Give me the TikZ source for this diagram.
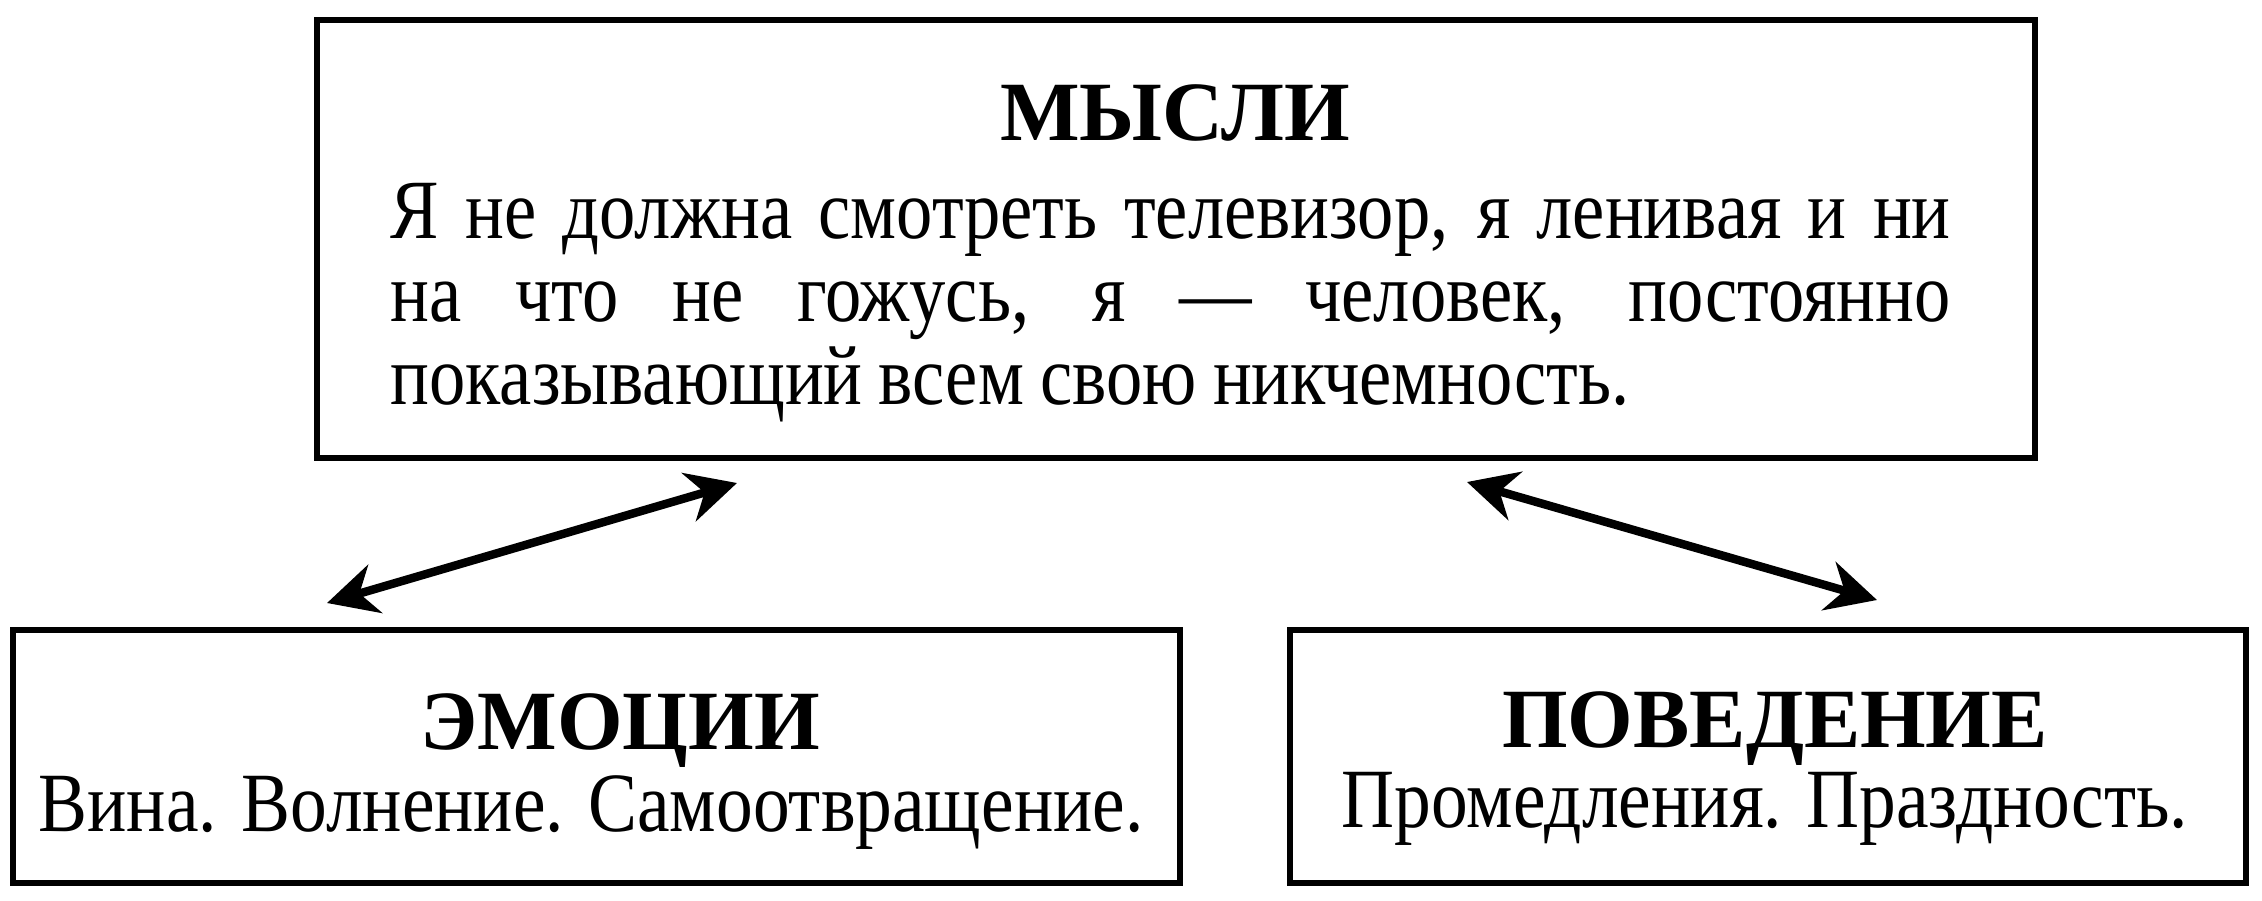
\documentclass[tikz,border=0pt]{standalone}
\usepackage{fontspec}
\setmainfont{Liberation Serif}
\newfontfamily\narrowfont[FakeStretch=0.87]{Liberation Serif}
\newfontfamily\bodyfont[FakeStretch=0.86,WordSpace=0.9]{Liberation Serif}
\usepackage{tikz}
\usetikzlibrary{arrows.meta,positioning,calc}

\begin{document}
\begin{tikzpicture}[transform shape,scale=1,
	box/.style={draw,line width=1.6pt,inner sep=0pt},
	title/.style={anchor=base,font=\bfseries\fontsize{24}{28}\selectfont,inner sep=0pt},
	sub/.style={anchor=base,font=\narrowfont\fontsize{24}{28}\selectfont,inner sep=0pt},
	link/.style={line width=2.4pt,{Stealth[length=5mm,width=5mm]}-{Stealth[length=5mm,width=5mm]}}]
	\useasboundingbox (0,0) rectangle (22.62,-9.00);
	% boxes
	\draw[box] (3.17,-0.20) rectangle (20.35,-4.58);
	\draw[box] (0.13,-6.30) rectangle (11.80,-8.83);
	\draw[box] (12.90,-6.30) rectangle (22.46,-8.83);
	% top box
	\node[title] (mysli) at (11.75,-1.40) {МЫСЛИ};
	\node[anchor=north west,inner sep=0pt,text width=15.6cm,align=justify,
		font=\bodyfont\fontsize{24}{23.6}\selectfont] (mysli-text) at (3.90,-1.83)
		{Я не должна смотреть телевизор, я ленивая и ни\linebreak на что не гожусь, я — человек, постоянно\linebreak показывающий всем свою никчемность.};
	% left box
	\node[title] (emo) at (6.20,-7.49) {ЭМОЦИИ};
	\node[sub] (emo-text) at (5.91,-8.31) {Вина. Волнение. Самоотвращение.};
	% right box
	\node[title] (beh) at (17.75,-7.47) {ПОВЕДЕНИЕ};
	\node[sub] (beh-text) at (17.65,-8.27) {Промедления. Праздность.};
	% arrows
	\coordinate (emo-tip) at (3.27,-6.03);
	\coordinate (mysli-l) at (7.37,-4.83);
	\coordinate (mysli-r) at (14.67,-4.82);
	\coordinate (beh-tip) at (18.77,-6.00);
	\draw[link] (emo-tip)--(mysli-l);
	\draw[link] (mysli-r)--(beh-tip);
\end{tikzpicture}
\end{document}
